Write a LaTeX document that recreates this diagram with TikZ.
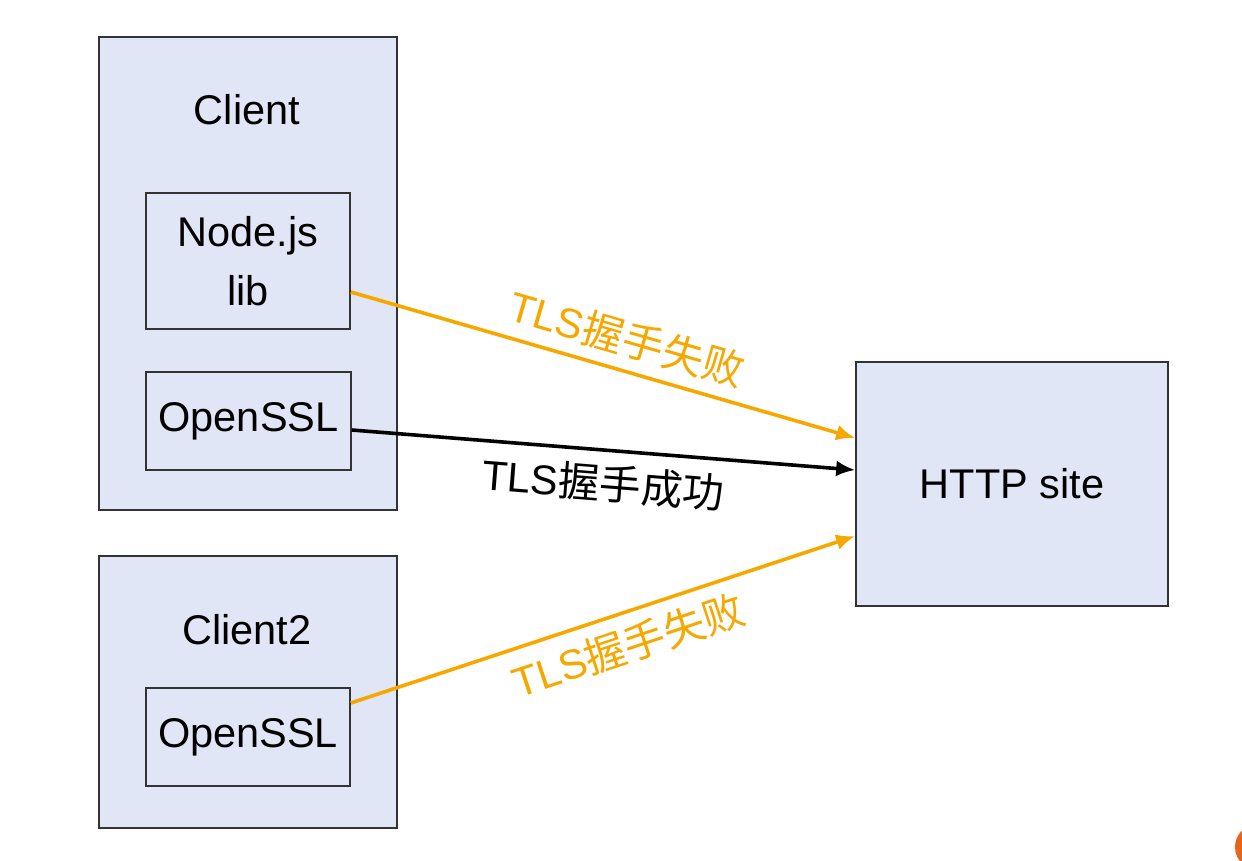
\documentclass[tikz,border=0pt]{standalone}
\usepackage{fontspec}
\setmainfont{Liberation Sans}
\newfontfamily\cjk{Noto Sans CJK SC}
\usetikzlibrary{arrows.meta}
\definecolor{boxfill}{HTML}{E1E6F6}
\definecolor{boxline}{HTML}{333333}
\definecolor{failcol}{HTML}{F7A800}
\definecolor{dotcol}{HTML}{E8641B}
\begin{document}
\begin{tikzpicture}[x=1pt,y=-1pt,
	box/.style={draw=boxline,fill=boxfill,line width=1.6pt,inner sep=0pt},
	lbl/.style={font=\fontsize{41.5}{59}\selectfont,align=center},
	link/.style={line width=3.6pt,-{Latex[length=19pt,width=16pt]}}]
	\useasboundingbox[fill=white] (0,0) rectangle (1242,860);
	\begin{scope}
		\clip (0,0) rectangle (1242,860);
		\fill[dotcol] (1258,847) circle (23);
	\end{scope}
	\node[box,minimum width=298pt,minimum height=473pt] (client) at (248,273.5) {};
	\node[lbl] (clientname) at (247,110) {Client};
	\node[box,lbl,minimum width=204pt,minimum height=136pt] (nodelib) at (248,261) {Node.js\\lib};
	\node[box,lbl,minimum width=205pt,minimum height=98pt] (openssl) at (248.5,421) {OpenSSL};
	\node[box,minimum width=298pt,minimum height=272pt] (clienttwo) at (248,692) {};
	\node[lbl] (clienttwoname) at (247,630) {Client2};
	\node[box,lbl,minimum width=204pt,minimum height=98pt] (opensslb) at (248,737) {OpenSSL};
	\node[box,lbl,minimum width=312pt,minimum height=244pt] (http) at (1012,484) {HTTP site};
	\draw[link,failcol] ([yshift=-31pt]nodelib.east) -- ([yshift=46pt]http.west)
		node[lbl,text=failcol,pos=0.53,above=8pt,sloped] {TLS{\cjk 握手失败}};
	\draw[link,black] ([yshift=-9pt]openssl.east) -- ([yshift=14pt]http.west)
		node[lbl,pos=0.505,below=9pt,sloped] {TLS{\cjk 握手成功}};
	\draw[link,failcol] ([yshift=34pt]opensslb.east) -- ([yshift=-52pt]http.west)
		node[lbl,text=failcol,pos=0.53,below=8pt,sloped] {TLS{\cjk 握手失败}};
\end{tikzpicture}
\end{document}
